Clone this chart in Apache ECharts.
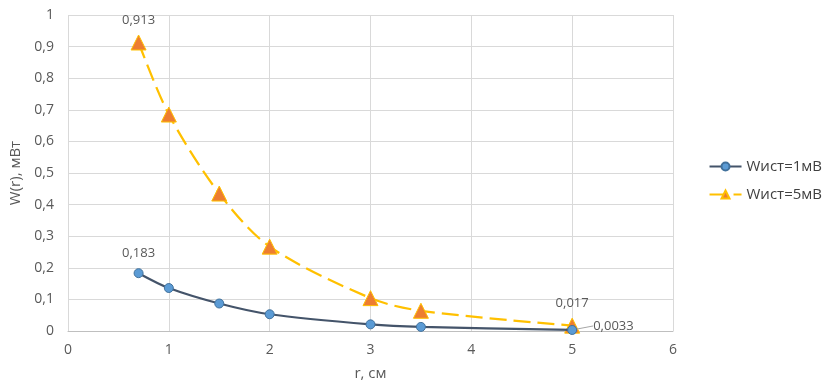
<!DOCTYPE html>
<html><head><meta charset="utf-8">
<script src="https://cdn.jsdelivr.net/npm/echarts@6/dist/echarts.min.js"></script>
<style>html,body{margin:0;padding:0;background:#fff}#c{width:831px;height:392px}</style>
</head><body><div id="c"></div>
<script>
const rValues = [0.7, 1, 1.5, 2, 3, 3.5, 5];
const w1 = [0.183, 0.136, 0.087, 0.053, 0.021, 0.013, 0.0033];
const w5 = [0.913, 0.685, 0.435, 0.267, 0.104, 0.064, 0.017];
const seriesNames = ['Wист=1мВ', 'Wист=5мВ'];
const labeled1 = [0, 6];
const labeled5 = [0, 6];
const fmt = v => String(v).replace('.', ',');
const font = '"Open Sans", "Noto Sans", sans-serif';

function build(vals, labeled, isFirst) {
  return vals.map((v, i) => {
    const d = { value: [rValues[i], v] };
    if (labeled.includes(i)) {
      if (isFirst && i === 6) {
        d.label = { show: true, position: 'right', distance: 4, formatter: fmt(v), color: '#595959', fontSize: 13, fontFamily: font };
        d.labelLine = { show: true, lineStyle: { color: '#A6A6A6', width: 1 } };
      } else {
        d.label = { show: true, position: 'top', distance: 8, formatter: fmt(v), color: '#595959', fontSize: 13, fontFamily: font };
      }
    }
    return d;
  });
}

const chart = echarts.init(document.getElementById('c'));
chart.setOption({
  animation: false,
  grid: { left: 68, right: 158, top: 15, bottom: 61 },
  legend: {
    orient: 'vertical', right: 4, top: 154, itemGap: 13, itemWidth: 32, itemHeight: 10,
    textStyle: { fontSize: 15, color: '#404040', fontFamily: font },
    data: seriesNames
  },
  xAxis: {
    type: 'value', min: 0, max: 6, interval: 1,
    name: 'r, см', nameLocation: 'middle', nameGap: 35,
    nameTextStyle: { fontSize: 15, color: '#595959', fontFamily: font },
    axisLine: { show: true, lineStyle: { color: '#BFBFBF' } },
    axisTick: { show: false },
    axisLabel: { color: '#595959', fontSize: 14, fontFamily: font, margin: 12 },
    splitLine: { show: true, lineStyle: { color: '#D9D9D9' } }
  },
  yAxis: {
    type: 'value', min: 0, max: 1, interval: 0.1,
    name: 'W(r), мВт', nameLocation: 'middle', nameGap: 42, nameRotate: 90,
    nameTextStyle: { fontSize: 15, color: '#595959', fontFamily: font },
    axisLine: { show: false }, axisTick: { show: false },
    axisLabel: { color: '#595959', fontSize: 14, fontFamily: font, margin: 14, formatter: v => fmt(+v.toFixed(1)) },
    splitLine: { show: true, lineStyle: { color: '#D9D9D9' } }
  },
  series: [
    {
      name: seriesNames[0], type: 'line', smooth: 0.3,
      data: build(w1, labeled1, true),
      symbol: 'circle', symbolSize: 9,
      lineStyle: { color: '#44546A', width: 2.25 },
      itemStyle: { color: '#5B9BD5', borderColor: '#41719C', borderWidth: 1 },
      labelLine: { show: false },
      labelLayout: p => p.dataIndex === 6 ? { dx: 12, dy: -4 } : {},
      z: 3
    },
    {
      name: seriesNames[1], type: 'line', smooth: 0.3,
      data: build(w5, labeled5, false),
      symbol: 'triangle', symbolSize: 15,
      lineStyle: { color: '#FFC000', width: 2.25, type: [17, 7] },
      itemStyle: { color: '#ED7D31', borderColor: '#FFC000', borderWidth: 1 },
      z: 2
    }
  ]
});
</script></body></html>
